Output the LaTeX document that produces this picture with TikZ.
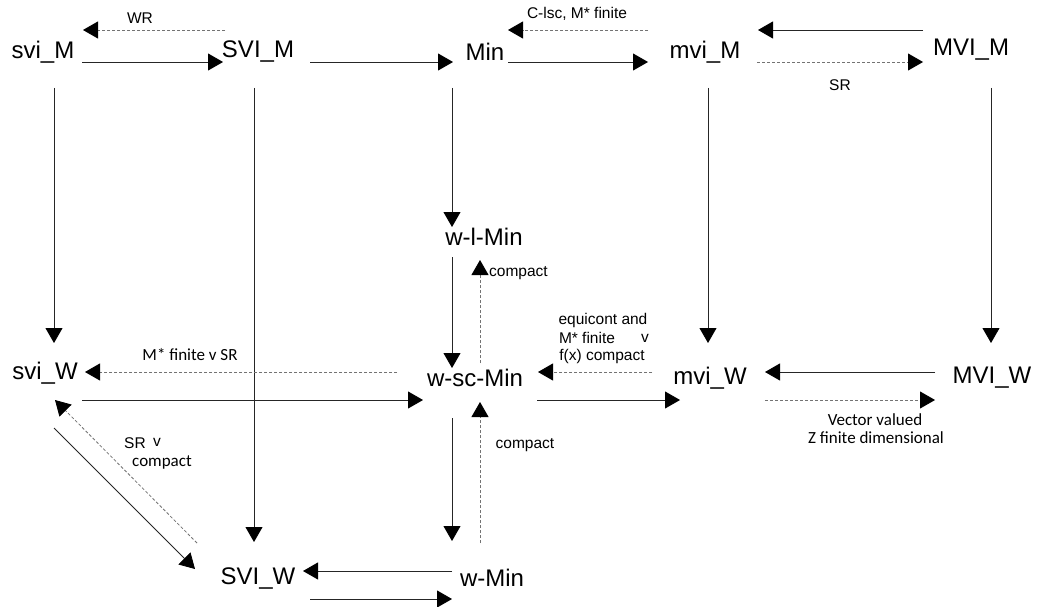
\documentclass[tikz,border=0pt]{standalone}
\usepackage{fontspec}
\setmainfont{Liberation Sans}
\newfontfamily\carl{Carlito}
\usetikzlibrary{arrows.meta,calc}
\begin{document}
\begin{tikzpicture}[x=1pt,y=-1pt,
  lbl/.style={font=\fontsize{24}{26}\selectfont, inner sep=0pt, anchor=center},
  sm/.style={font=\fontsize{15.5}{18}\selectfont, inner sep=0pt},
  smc/.style={font=\carl\fontsize{17}{19}\selectfont, inner sep=0pt},
  sol/.style={draw=black!85, line width=0.8pt, -{Triangle[length=15pt,width=17pt,black]}},
  dsh/.style={draw=black!55, line width=0.8pt, dash pattern=on 3pt off 2pt, -{Triangle[length=15pt,width=17pt,black]}}]
\useasboundingbox[fill=white] (0,0) rectangle (1038,607);
% nodes
\node[lbl] (sviM) at (43,52) {svi\_M};
\node[lbl] (SVIM) at (258,52) {SVI\_M};
\node[lbl] (Min) at (485,52) {Min};
\node[lbl] (mviM) at (705,52) {mvi\_M};
\node[lbl] (MVIM) at (971,50) {MVI\_M};
\node[lbl] (wlMin) at (484,237) {w-l-Min};
\node[lbl] (sviW) at (45,373) {svi\_W};
\node[lbl] (wscMin) at (475,378) {w-sc-Min};
\node[lbl] (mviW) at (710,378) {mvi\_W};
\node[lbl] (MVIW) at (992,378) {MVI\_W};
\node[lbl] (SVIW) at (258,578) {SVI\_W};
\node[lbl] (wMin) at (492,578) {w-Min};
% top row
\draw[dsh] ($(SVIM)+(-33,-22)$) -- ($(sviM)+(40,-22)$);
\draw[sol] ($(sviM)+(39,10)$) -- ($(SVIM)+(-35,10)$);
\draw[sol] ($(SVIM)+(52,10)$) -- ($(Min)+(-32,10)$);
\draw[dsh] ($(mviM)+(-57,-22)$) -- ($(Min)+(23,-22)$);
\draw[sol] ($(Min)+(23,10)$) -- ($(mviM)+(-57,10)$);
\draw[sol] ($(MVIM)+(-48,-20)$) -- ($(mviM)+(53,-22)$);
\draw[dsh] ($(mviM)+(52,10)$) -- ($(MVIM)+(-48,12)$);
% verticals from top
\draw[sol] ($(sviM)+(11,36)$) -- ($(sviW)+(9,-30)$);
\draw[sol] ($(SVIM)+(-4,36)$) -- ($(SVIW)+(-4,-36)$);
\draw[sol] ($(Min)+(-33,36)$) -- ($(wlMin)+(-32,-10)$);
\draw[sol] ($(mviM)+(3,36)$) -- ($(mviW)+(-2,-35)$);
\draw[sol] ($(MVIM)+(20,38)$) -- ($(MVIW)+(-1,-35)$);
% middle column
\draw[sol] ($(wlMin)+(-32,20)$) -- ($(wscMin)+(-23,-10)$);
\draw[dsh] ($(wscMin)+(5,-15)$) -- ($(wlMin)+(-4,23)$);
\draw[dsh] ($(mviW)+(-58,-6)$) -- ($(wscMin)+(63,-6)$);
\draw[sol] ($(wscMin)+(62,22)$) -- ($(mviW)+(-30,22)$);
\draw[sol] ($(MVIW)+(-57,-6)$) -- ($(mviW)+(55,-6)$);
\draw[dsh] ($(mviW)+(55,22)$) -- ($(MVIW)+(-57,22)$);
\draw[dsh] ($(wscMin)+(-78,-6)$) -- ($(sviW)+(40,-1)$);
\draw[sol] ($(sviW)+(37,27)$) -- ($(wscMin)+(-52,22)$);
% diagonal
\draw[sol] ($(sviW)+(9,55)$) -- ($(SVIW)+(-63,-9)$);
\draw[dsh] ($(SVIW)+(-61,-35)$) -- ($(sviW)+(10,27)$);
% lower middle
\draw[sol] ($(wscMin)+(-23,40)$) -- ($(wMin)+(-40,-37)$);
\draw[dsh] ($(wMin)+(-12,-35)$) -- ($(wscMin)+(5,24)$);
\draw[sol] ($(wMin)+(-40,-7)$) -- ($(SVIW)+(45,-7)$);
\draw[sol] ($(SVIW)+(52,21)$) -- ($(wMin)+(-40,21)$);
% labels
\node[sm] (lWR) at (140,18) {WR};
\node[sm] (lClsc) at (577,14) {C-lsc, M* finite};
\node[sm] (lSR) at (840,85) {SR};
\node[sm, anchor=west] (lcomp1) at (489,273) {compact};
\node[sm] (leq1) at (603,320) {equicont and};
\node[sm] (leq2) at (587,338) {M* finite};
\node[sm] (leq3) at (645,338) {v};
\node[sm] (leq4) at (602,356) {f(x) compact};
\node[smc] (lMSR) at (190,355) {M* finite v SR};
\node[sm] (lSRv) at (135,443) {SR};
\node[sm] (lSRv2) at (157,442) {v};
\node[smc] (lcompd) at (162,462) {compact};
\node[sm] (lcomp2) at (525,445) {compact};
\node[smc] (lvec1) at (875,420) {Vector valued};
\node[smc] (lvec2) at (876,438) {Z finite dimensional};
\end{tikzpicture}
\end{document}
